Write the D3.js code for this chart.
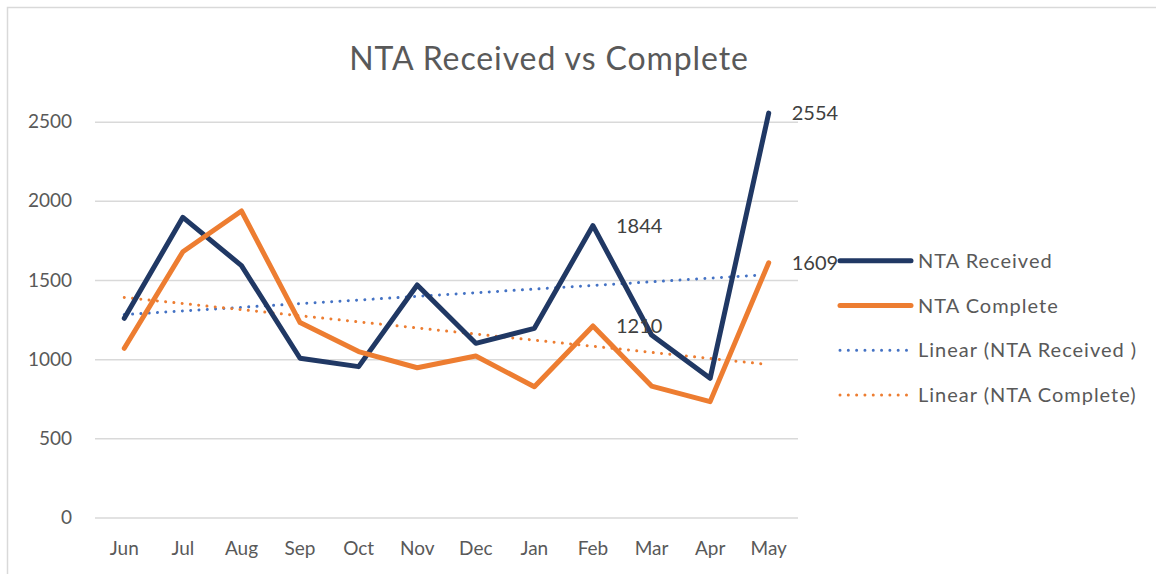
<!DOCTYPE html>
<html>
<head>
<meta charset="utf-8">
<script src="https://cdn.jsdelivr.net/npm/d3@7"></script>
<style>
  html, body { margin: 0; padding: 0; background: #fff; }
  svg { display: block; font-family: Lato, "Open Sans", sans-serif; }
</style>
</head>
<body>
<svg width="1156" height="574"></svg>
<script>
const months = ['Jun', 'Jul', 'Aug', 'Sep', 'Oct', 'Nov', 'Dec', 'Jan', 'Feb', 'Mar', 'Apr', 'May'];
const received = [1258, 1896, 1591, 1006, 953, 1469, 1100, 1195, 1844, 1153, 879, 2554];
const complete = [1069, 1679, 1936, 1231, 1048, 946, 1020, 826, 1210, 830, 732, 1609];
const yTicks = [0, 500, 1000, 1500, 2000, 2500];
// which points carry a value label
const receivedLabels = ['Feb', 'May'];
const completeLabels = ['Feb', 'May'];

const svg = d3.select('svg');
const textColor = '#595959';

// chart border
svg.append('rect')
  .attr('x', 7.5).attr('y', 7.5)
  .attr('width', 1160).attr('height', 580)
  .attr('fill', 'none')
  .attr('stroke', '#d9d9d9')
  .attr('stroke-width', 1.5);

const x = d3.scaleBand().domain(months).range([95, 798]).padding(0);
const y = d3.scaleLinear().domain([0, 2500]).range([517.5, 121.7]);
const cx = m => x(m) + x.bandwidth() / 2;

// gridlines + y labels
const yAxis = svg.append('g')
  .attr('transform', 'translate(95,0)')
  .call(d3.axisLeft(y).tickValues(yTicks).tickSize(-703).tickPadding(23).tickFormat(d3.format('d')));
yAxis.select('.domain').remove();
yAxis.selectAll('line').attr('stroke', '#d9d9d9').attr('stroke-width', 1.5);
yAxis.selectAll('text')
  .attr('fill', textColor)
  .style('font-size', '19px')
  .style('font-family', 'Lato, sans-serif');

// x labels
const xAxis = svg.append('g')
  .attr('transform', 'translate(0,517.5)')
  .call(d3.axisBottom(x).tickSize(0).tickPadding(24));
xAxis.select('.domain').remove();
xAxis.selectAll('text')
  .attr('fill', textColor)
  .style('font-size', '19px')
  .style('font-family', 'Lato, sans-serif');

// title
svg.append('text')
  .attr('x', 549).attr('y', 70)
  .attr('text-anchor', 'middle')
  .attr('fill', textColor)
  .style('font-size', '32px')
  .style('letter-spacing', '0.9px')
  .text('NTA Received vs Complete');

// least squares trend
function trend(vals) {
  const n = vals.length;
  const xs = d3.range(1, n + 1);
  const mx = d3.mean(xs), my = d3.mean(vals);
  const sxy = d3.sum(xs, (xi, i) => (xi - mx) * (vals[i] - my));
  const sxx = d3.sum(xs, xi => (xi - mx) ** 2);
  const b = sxy / sxx, a = my - b * mx;
  return xs.map(xi => a + b * xi);
}

const line = d3.line()
  .x((d, i) => cx(months[i]))
  .y(d => y(d));

const series = [
  { name: 'NTA Received', values: received, color: '#203864', width: 5, dotted: false },
  { name: 'NTA Complete', values: complete, color: '#ed7d31', width: 5, dotted: false },
  { name: 'Linear (NTA Received )', values: trend(received), color: '#4472c4', width: 3, dotted: true },
  { name: 'Linear (NTA Complete)', values: trend(complete), color: '#ed7d31', width: 3, dotted: true }
];

// draw trends under data lines
const drawOrder = [series[2], series[3], series[0], series[1]];
svg.append('g').selectAll('path')
  .data(drawOrder)
  .join('path')
  .attr('d', d => line(d.values))
  .attr('fill', 'none')
  .attr('stroke', d => d.color)
  .attr('stroke-width', d => d.width)
  .attr('stroke-linecap', 'round')
  .attr('stroke-linejoin', 'round')
  .attr('stroke-dasharray', d => d.dotted ? '0.01 8.3' : null);

// value labels
const labels = [
  ...receivedLabels.map(m => ({ m, v: received[months.indexOf(m)] })),
  ...completeLabels.map(m => ({ m, v: complete[months.indexOf(m)] }))
];
svg.append('g').selectAll('text')
  .data(labels)
  .join('text')
  .attr('x', d => cx(d.m) + 23)
  .attr('y', d => y(d.v))
  .attr('dy', '0.35em')
  .attr('fill', '#404040')
  .style('font-size', '20px')
  .text(d => d.v);

// legend
const legend = svg.append('g').selectAll('g')
  .data(series)
  .join('g')
  .attr('transform', (d, i) => `translate(840,${260.7 + i * 44.8})`);
legend.append('line')
  .attr('x1', 0).attr('x2', 71)
  .attr('stroke', d => d.color)
  .attr('stroke-width', d => d.width)
  .attr('stroke-linecap', 'round')
  .attr('stroke-dasharray', d => d.dotted ? '0.01 8.3' : null);
legend.append('text')
  .attr('x', 78)
  .attr('dy', '0.35em')
  .attr('fill', textColor)
  .style('font-size', '20px')
  .style('letter-spacing', '1px')
  .text(d => d.name);
</script>
</body>
</html>
